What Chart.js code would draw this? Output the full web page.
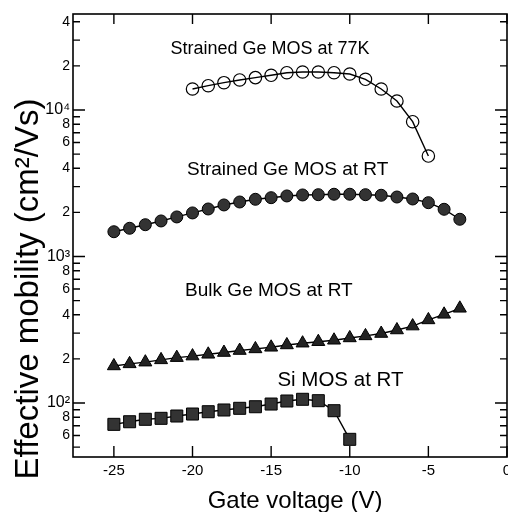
<!DOCTYPE html>
<html>
<head>
<meta charset="utf-8">
<script src="https://cdn.jsdelivr.net/npm/chart.js@4.4.1/dist/chart.umd.min.js"></script>
<style>
  html, body { margin: 0; padding: 0; background: #fff; }
  #wrap { width: 508px; height: 512px; }
</style>
</head>
<body>
<div id="wrap"><canvas id="chart" width="508" height="512"></canvas></div>
<script>
// ---------------------------------------------------------------------------
// Data
// ---------------------------------------------------------------------------
const gateVoltage77K = [-20, -19, -18, -17, -16, -15, -14, -13, -12, -11, -10, -9, -8, -7, -6, -5];
const mobilityStrained77K = [13910, 14650, 15360, 16030, 16620, 17250, 17970, 18170, 18170, 17970, 17610, 16200, 13910, 11520, 8320, 4850];

const gateVoltageStrainedRT = [-25, -24, -23, -22, -21, -20, -19, -18, -17, -16, -15, -14, -13, -12, -11, -10, -9, -8, -7, -6, -5, -4, -3];
const mobilityStrainedRT = [1476, 1558, 1648, 1748, 1862, 1983, 2110, 2248, 2355, 2457, 2520, 2590, 2630, 2642, 2660, 2660, 2642, 2618, 2547, 2469, 2330, 2100, 1795];

const gateVoltageBulk = [-25, -24, -23, -22, -21, -20, -19, -18, -17, -16, -15, -14, -13, -12, -11, -10, -9, -8, -7, -6, -5, -4, -3];
const mobilityBulk = [179, 185, 190, 197, 204, 209, 215, 221, 228, 234, 240, 249, 256, 262, 268, 278, 287, 298, 315, 335, 369, 403, 443];

const gateVoltageSi = [-25, -24, -23, -22, -21, -20, -19, -18, -17, -16, -15, -14, -13, -12, -11, -10];
const mobilitySi = [71.5, 74.5, 77.4, 78.6, 81.5, 84.1, 87.2, 89.6, 92.0, 94.3, 98.4, 103.2, 106.0, 103.7, 88.6, 56.5];

const xTickValues = [-25, -20, -15, -10, -5, 0];
const yTickValues = [50, 60, 70, 80, 90,
  100, 200, 300, 400, 500, 600, 700, 800, 900,
  1000, 2000, 3000, 4000, 5000, 6000, 7000, 8000, 9000,
  10000, 20000, 30000, 40000];
const yTickLabels = ['', '6', '', '8', '',
  '10²', '2', '', '4', '', '6', '', '8', '',
  '10³', '2', '', '4', '', '6', '', '8', '',
  '10⁴', '2', '', '4'];

// curve labels, anchored at (gate voltage, mobility) of their left edge
const curveLabels = ['Strained Ge MOS at 77K', 'Strained Ge MOS at RT', 'Bulk Ge MOS at RT', 'Si MOS at RT'];
const curveLabelX = [-21.4, -20.35, -20.47, -14.6];
const curveLabelY = [26000, 3894, 581, 143.6];
const curveLabelSize = [18, 19, 19, 20.5];

const xTitle = 'Gate voltage (V)';
const yTitle = 'Effective mobility (cm²/Vs)';

// ---------------------------------------------------------------------------
const FONT = "'Liberation Sans', Arial, Helvetica, sans-serif";
const pts = (xs, ys) => xs.map((x, i) => ({ x, y: ys[i] }));

const lineStyle = {
  borderColor: '#000',
  borderWidth: 1.4,
  tension: 0,
  fill: false,
  pointBorderColor: '#000',
  pointBorderWidth: 1,
};

// Chart.js reserves room for overhanging end labels; the figure doesn't
function noOverhang(s) {
  s.paddingLeft = s.paddingRight = s.paddingTop = s.paddingBottom = 0;
  if (s._margins) {
    if (s.isHorizontal()) s._margins.right = 0;
    else { s._margins.top = 0; s._margins.bottom = 0; }
  }
}

// frame, inward ticks, x tick labels, curve labels and axis titles
const decorPlugin = {
  id: 'decor',
  afterDraw(chart) {
    const { ctx, chartArea: a, scales: { x, y } } = chart;
    ctx.save();
    ctx.strokeStyle = '#000';
    ctx.fillStyle = '#000';

    ctx.lineWidth = 1.6;
    ctx.strokeRect(a.left, a.top, a.right - a.left, a.bottom - a.top);

    ctx.lineWidth = 1.4;
    ctx.beginPath();
    xTickValues.forEach(v => {
      const px = x.getPixelForValue(v);
      ctx.moveTo(px, a.bottom); ctx.lineTo(px, a.bottom - 11);
      ctx.moveTo(px, a.top); ctx.lineTo(px, a.top + 10);
    });
    yTickValues.forEach(v => {
      const py = y.getPixelForValue(v);
      const major = Number.isInteger(Math.log10(v));
      const len = major ? 12 : 7;
      ctx.moveTo(a.left, py); ctx.lineTo(a.left + len, py);
      ctx.moveTo(a.right, py); ctx.lineTo(a.right - len, py);
    });
    ctx.stroke();

    // x tick labels (the last one runs off the canvas edge, as in the figure)
    ctx.font = `15px ${FONT}`;
    ctx.textAlign = 'center';
    ctx.textBaseline = 'top';
    xTickValues.forEach(v => ctx.fillText(String(v), x.getPixelForValue(v), a.bottom + 6));

    ctx.textAlign = 'left';
    ctx.textBaseline = 'middle';
    curveLabels.forEach((t, i) => {
      ctx.font = `${curveLabelSize[i]}px ${FONT}`;
      ctx.fillText(t, x.getPixelForValue(curveLabelX[i]), y.getPixelForValue(curveLabelY[i]));
    });

    ctx.textAlign = 'center';
    ctx.font = `24px ${FONT}`;
    ctx.fillText(xTitle, 295, 501);

    ctx.translate(29, 289);
    ctx.rotate(-Math.PI / 2);
    ctx.font = `33px ${FONT}`;
    ctx.fillText(yTitle, 0, 0);
    ctx.restore();
  },
};

new Chart(document.getElementById('chart'), {
  type: 'line',
  data: {
    datasets: [
      {
        ...lineStyle,
        label: 'Strained Ge MOS at 77K',
        data: pts(gateVoltage77K, mobilityStrained77K),
        pointStyle: 'circle',
        pointRadius: 6.2,
        pointBackgroundColor: 'rgba(255,255,255,0)',
        pointBorderWidth: 1.2,
      },
      {
        ...lineStyle,
        label: 'Strained Ge MOS at RT',
        data: pts(gateVoltageStrainedRT, mobilityStrainedRT),
        pointStyle: 'circle',
        pointRadius: 6,
        pointBackgroundColor: '#333',
      },
      {
        ...lineStyle,
        label: 'Bulk Ge MOS at RT',
        data: pts(gateVoltageBulk, mobilityBulk),
        pointStyle: 'triangle',
        pointRadius: 7.5,
        pointBackgroundColor: '#222',
      },
      {
        ...lineStyle,
        label: 'Si MOS at RT',
        data: pts(gateVoltageSi, mobilitySi),
        pointStyle: 'rect',
        pointRadius: 8.5,
        pointBackgroundColor: '#333',
      },
    ],
  },
  options: {
    responsive: false,
    devicePixelRatio: 1,
    animation: false,
    layout: { autoPadding: false, padding: { top: 14, right: 1, left: 0, bottom: 0 } },
    plugins: { legend: { display: false }, tooltip: { enabled: false } },
    scales: {
      x: {
        type: 'linear',
        min: -27.6,
        max: 0,
        grid: { display: false, drawTicks: false },
        border: { display: false },
        afterBuildTicks: s => { s.ticks = xTickValues.map(v => ({ value: v })); },
        afterFit: s => { s.height = 55; noOverhang(s); },
        ticks: { display: false },
      },
      y: {
        type: 'logarithmic',
        min: 42.8,
        max: 45200,
        grid: { display: false, drawTicks: false },
        border: { display: false },
        afterBuildTicks: s => { s.ticks = yTickValues.map(v => ({ value: v })); },
        afterFit: s => { s.width = 73; noOverhang(s); },
        ticks: {
          autoSkip: false,
          padding: 3,
          color: '#000',
          font: c => ({ family: FONT, size: String(yTickLabels[c.index] || '').startsWith('10') ? 16 : 14 }),
          callback: (v, i) => yTickLabels[i],
        },
      },
    },
  },
  plugins: [decorPlugin],
});
</script>
</body>
</html>
